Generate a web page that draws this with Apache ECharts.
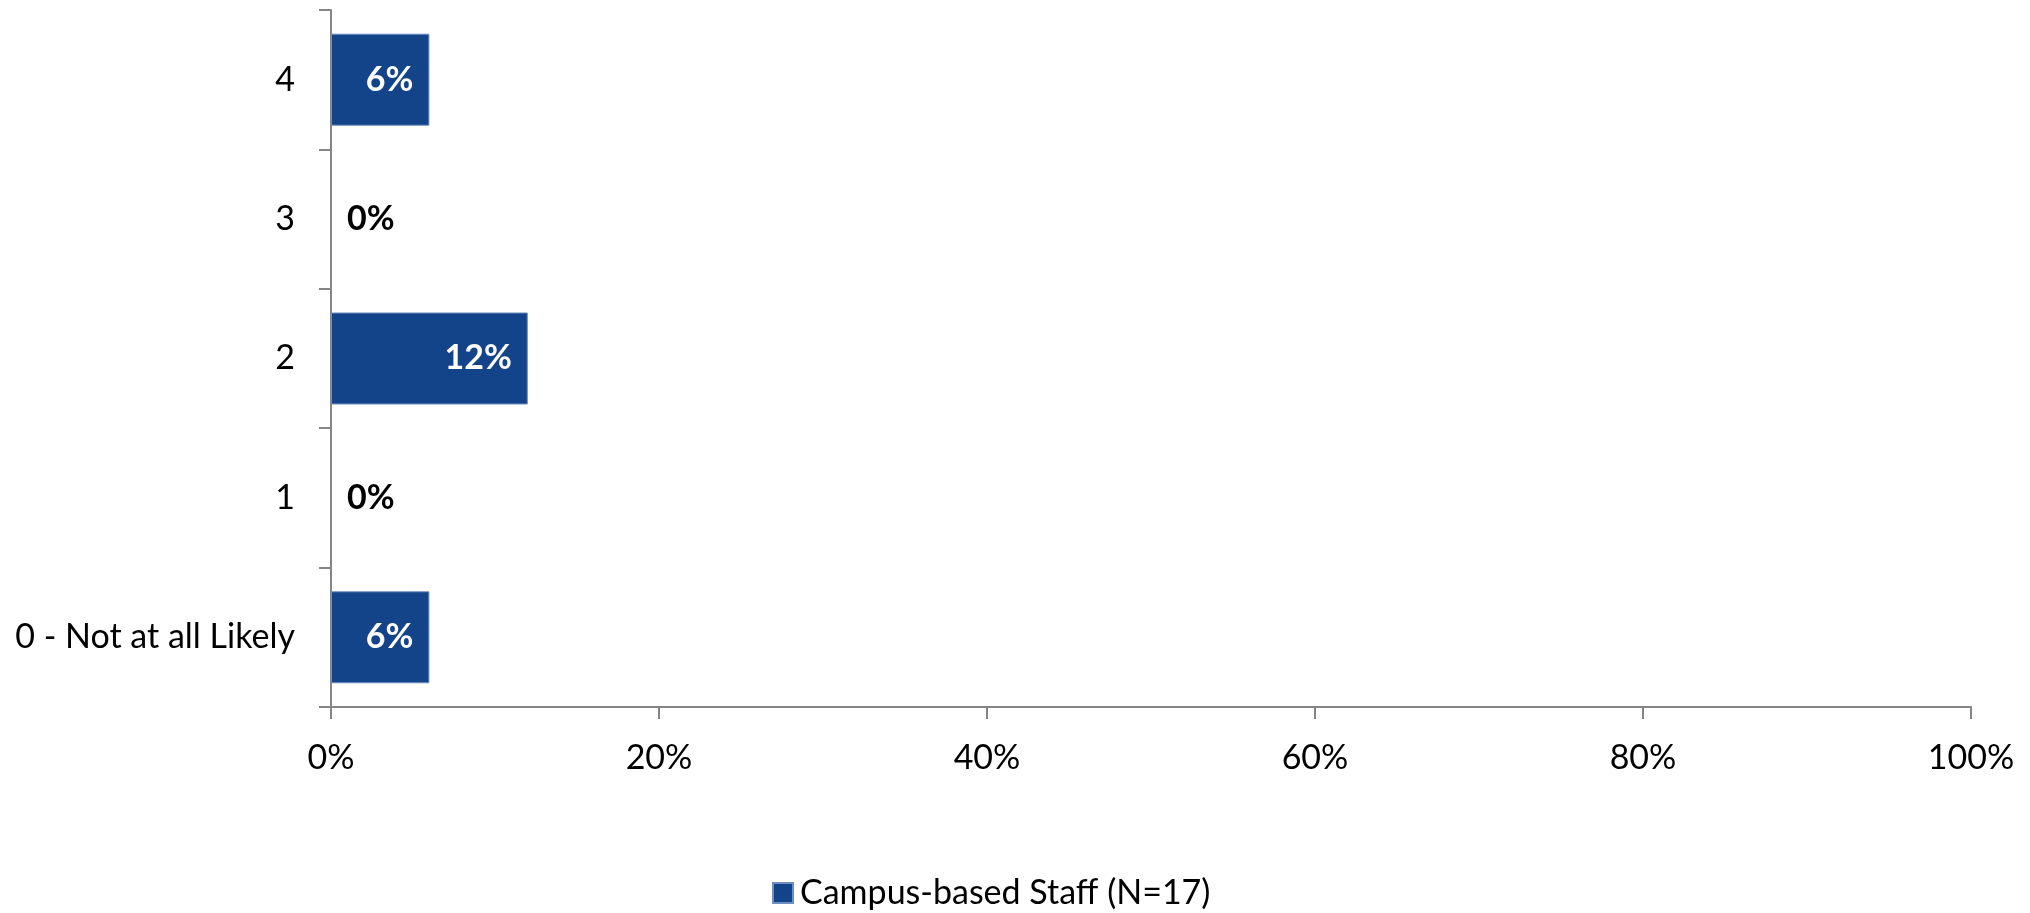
<!DOCTYPE html>
<html>
<head>
<meta charset="utf-8">
<script src="https://cdn.jsdelivr.net/npm/echarts@6/dist/echarts.min.js"></script>
<style>
html,body{margin:0;padding:0;background:#fff;}
#c{width:2030px;height:913px;}
</style>
</head>
<body>
<div id="c"></div>
<script>
const categories = ['0 - Not at all Likely', '1', '2', '3', '4'];
const values = [6, 0, 12, 0, 6];
const seriesName = 'Campus-based Staff (N=17)';
const xTicks = [0, 20, 40, 60, 80, 100];

const FONT = 'Lato';
const FS = 34;
const chart = echarts.init(document.getElementById('c'));
const axisColor = '#868686';

chart.setOption({
  animation: false,
  backgroundColor: '#ffffff',
  grid: { left: 331, right: 59, top: 10, bottom: 206, containLabel: false, outerBoundsMode: 'none' },
  legend: {
    data: [seriesName],
    left: 772,
    top: 874,
    padding: 0,
    itemWidth: 20,
    itemHeight: 20,
    icon: 'rect',
    textStyle: { fontFamily: FONT, fontSize: FS, lineHeight: 38, color: '#000', padding: [0, 0, 0, 2] }
  },
  xAxis: {
    type: 'value',
    min: 0,
    max: 100,
    interval: 20,
    axisLine: { show: true, lineStyle: { color: axisColor, width: 2 } },
    axisTick: { show: true, length: 12, lineStyle: { color: axisColor, width: 2 } },
    splitLine: { show: false },
    axisLabel: {
      margin: 34,
      fontFamily: FONT, fontSize: FS, color: '#000',
      formatter: v => xTicks.includes(v) ? v + '%' : ''
    }
  },
  yAxis: {
    type: 'category',
    data: categories,
    axisLine: { show: true, lineStyle: { color: axisColor, width: 2 } },
    axisTick: { show: true, length: 12, alignWithLabel: false, lineStyle: { color: axisColor, width: 2 } },
    axisLabel: { margin: 36, fontFamily: FONT, fontSize: FS, color: '#000' }
  },
  series: [{
    name: seriesName,
    type: 'bar',
    barCategoryGap: '34%',
    itemStyle: { color: '#134389', borderColor: '#6f8fc0', borderWidth: 1 },
    label: {
      show: true,
      position: 'insideRight',
      distance: 16,
      formatter: p => p.value + '%',
      fontFamily: FONT, fontSize: FS, fontWeight: 'bold', color: '#ffffff'
    },
    data: values.map(v => v === 0
      ? { value: v, itemStyle: { borderWidth: 0 }, label: { position: 'right', distance: 16, color: '#000000' } }
      : { value: v })
  }]
});
</script>
</body>
</html>
